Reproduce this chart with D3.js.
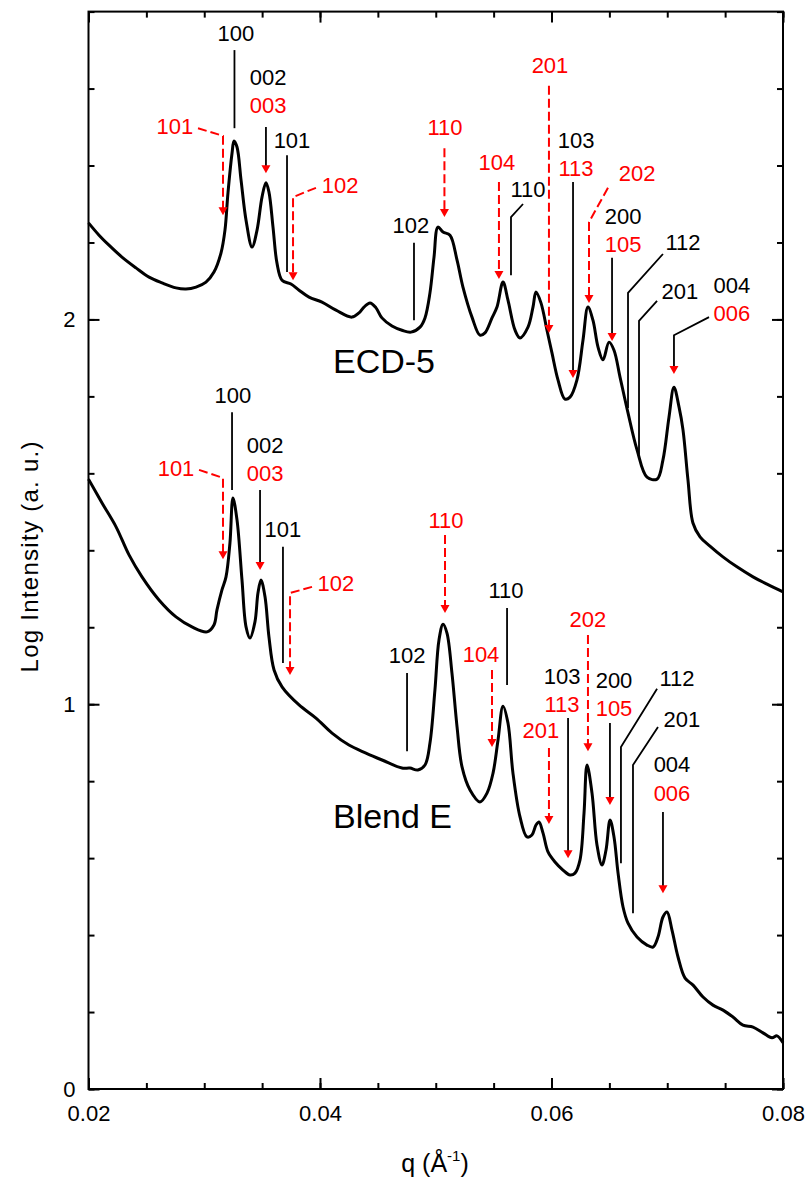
<!DOCTYPE html>
<html><head><meta charset="utf-8">
<script src="https://cdn.jsdelivr.net/npm/d3@7/dist/d3.min.js"></script>
<style>body{margin:0;background:#fff}svg{display:block}text{font-family:"Liberation Sans",Arial,sans-serif}</style>
</head><body>
<svg id="chart" width="809" height="1179"></svg>
<script>
// ---------- data (q in 1/Å, log intensity) ----------
const ecdQ = [0.0200,0.02091,0.02177,0.02289,0.02410,0.02523,0.02635,0.02756,0.02842,0.02929,0.03015,0.03084,0.03145,0.03179,0.03205,0.03240,0.03257,0.03283,0.03318,0.03361,0.03413,0.03456,0.03499,0.03533,0.03559,0.03594,0.03628,0.03672,0.03749,0.03819,0.03905,0.04017,0.04138,0.04276,0.04337,0.04380,0.04432,0.04484,0.04535,0.04622,0.04708,0.04786,0.04864,0.04907,0.04950,0.04985,0.05019,0.05063,0.05123,0.05184,0.05235,0.05313,0.05382,0.05425,0.05486,0.05529,0.05581,0.05624,0.05685,0.05728,0.05797,0.05840,0.05866,0.05909,0.05961,0.06004,0.06056,0.06116,0.06160,0.06220,0.06272,0.06315,0.06358,0.06402,0.06445,0.06497,0.06540,0.06592,0.06661,0.06739,0.06825,0.06912,0.06963,0.07015,0.07058,0.07102,0.07136,0.07179,0.07222,0.07283,0.07369,0.07481,0.07602,0.07741,0.07862,0.0800];
const ecdI = [2.251,2.219,2.193,2.162,2.134,2.110,2.095,2.082,2.079,2.084,2.097,2.123,2.173,2.232,2.329,2.432,2.464,2.448,2.362,2.258,2.188,2.232,2.318,2.355,2.331,2.240,2.147,2.102,2.092,2.076,2.058,2.045,2.024,2.006,2.017,2.032,2.043,2.030,2.004,1.983,1.972,1.967,1.980,2.004,2.069,2.162,2.240,2.227,2.219,2.154,2.084,2.006,1.959,1.965,2.004,2.032,2.097,2.050,1.972,1.952,1.980,2.032,2.071,2.043,1.972,1.913,1.843,1.793,1.798,1.843,1.946,2.032,1.998,1.928,1.895,1.941,1.920,1.850,1.757,1.661,1.590,1.585,1.635,1.746,1.824,1.772,1.713,1.583,1.471,1.435,1.411,1.383,1.357,1.331,1.312,1.292];
const blendQ = [0.0200,0.02117,0.02238,0.02350,0.02462,0.02609,0.02756,0.02894,0.03024,0.03084,0.03110,0.03153,0.03188,0.03222,0.03248,0.03283,0.03326,0.03361,0.03395,0.03438,0.03464,0.03490,0.03525,0.03559,0.03603,0.03672,0.03819,0.03965,0.04104,0.04250,0.04397,0.04536,0.04708,0.04777,0.04846,0.04907,0.04950,0.04993,0.05028,0.05063,0.05097,0.05140,0.05184,0.05227,0.05296,0.05382,0.05443,0.05495,0.05538,0.05581,0.05624,0.05667,0.05728,0.05788,0.05831,0.05866,0.05892,0.05927,0.05970,0.06030,0.06099,0.06160,0.06203,0.06246,0.06281,0.06307,0.06350,0.06393,0.06436,0.06471,0.06506,0.06540,0.06575,0.06618,0.06661,0.06739,0.06825,0.06877,0.06920,0.06963,0.06998,0.07041,0.07093,0.07154,0.07223,0.07309,0.07395,0.07482,0.07568,0.07654,0.07741,0.07827,0.07905,0.07948,0.0800];
const blendI = [1.585,1.523,1.461,1.388,1.331,1.271,1.227,1.201,1.188,1.206,1.245,1.297,1.331,1.419,1.536,1.479,1.323,1.201,1.172,1.214,1.289,1.323,1.279,1.175,1.089,1.045,0.998,0.964,0.925,0.894,0.873,0.855,0.834,0.834,0.829,0.842,0.899,1.037,1.167,1.208,1.185,1.081,0.941,0.837,0.777,0.746,0.769,0.821,0.907,0.995,0.951,0.821,0.707,0.655,0.660,0.686,0.694,0.665,0.616,0.590,0.569,0.556,0.561,0.595,0.717,0.842,0.769,0.634,0.582,0.621,0.699,0.655,0.561,0.473,0.431,0.395,0.374,0.369,0.395,0.447,0.460,0.413,0.343,0.288,0.270,0.239,0.218,0.205,0.187,0.166,0.161,0.146,0.133,0.138,0.120];

const xMajorTicks = [0.02,0.04,0.06,0.08];
const xTickLabels = ["0.02","0.04","0.06","0.08"];
const yMajorTicks = [0,1,2];
const yTickLabels = ["0","1","2"];

// peak labels: [text, colour, q, y]
const labelTexts = [
 ["100","k",0.03274,2.724],["002","k",0.03551,2.609],["003","r",0.03551,2.536],["101","k",0.03758,2.445],
 ["101","r",0.02747,2.482],["102","r",0.04173,2.329],["110","r",0.05080,2.479],["102","k",0.04786,2.225],
 ["104","r",0.05529,2.388],["110","k",0.05797,2.318],["201","r",0.05987,2.640],["103","k",0.06212,2.445],
 ["113","r",0.06212,2.373],["202","r",0.06739,2.360],["200","k",0.06618,2.248],["105","r",0.06618,2.175],
 ["112","k",0.07136,2.180],["201","k",0.07110,2.053],["004","k",0.07559,2.069],["006","r",0.07559,1.996],
 ["100","k",0.03248,1.783],["002","k",0.03525,1.653],["003","r",0.03525,1.580],["101","k",0.03680,1.435],
 ["101","r",0.02756,1.593],["102","r",0.04138,1.294],["110","r",0.05089,1.458],["102","k",0.04752,1.107],
 ["110","k",0.05607,1.276],["104","r",0.05391,1.110],["202","r",0.06315,1.201],["103","k",0.06091,1.053],
 ["113","r",0.06091,0.980],["200","k",0.06540,1.042],["105","r",0.06540,0.969],["112","k",0.07084,1.047],
 ["201","k",0.07127,0.941],["201","r",0.05909,0.912],["004","k",0.07041,0.824],["006","r",0.07041,0.748]
];
// leader lines: [colour, dashed, arrow, points [[q,y],...]]
const leaders = [
 ["k",0,0,[[0.03261,2.700],[0.03261,2.497]]],
 ["k",0,1,[[0.03533,2.500],[0.03533,2.380]]],
 ["k",0,0,[[0.03715,2.427],[0.03715,2.123]]],
 ["r",1,1,[[0.02946,2.497],[0.03162,2.477],[0.03162,2.271]]],
 ["r",1,1,[[0.03965,2.342],[0.03767,2.318],[0.03767,2.102]]],
 ["r",1,1,[[0.05075,2.445],[0.05075,2.266]]],
 ["k",0,0,[[0.04812,2.199],[0.04812,1.998]]],
 ["r",1,1,[[0.05546,2.357],[0.05546,2.105]]],
 ["k",0,0,[[0.05754,2.300],[0.05650,2.266],[0.05650,2.115]]],
 ["r",1,1,[[0.05978,2.607],[0.05978,1.965]]],
 ["k",0,1,[[0.06186,2.357],[0.06186,1.848]]],
 ["r",1,1,[[0.06488,2.342],[0.06324,2.253],[0.06324,2.043]]],
 ["k",0,1,[[0.06523,2.160],[0.06523,1.944]]],
 ["k",0,0,[[0.06963,2.170],[0.06661,2.069],[0.06661,1.770]]],
 ["k",0,0,[[0.06912,2.048],[0.06756,1.996],[0.06756,1.648]]],
 ["k",0,1,[[0.07361,2.006],[0.07058,1.959],[0.07058,1.858]]],
 ["k",0,0,[[0.03240,1.759],[0.03240,1.557]]],
 ["k",0,1,[[0.03482,1.557],[0.03482,1.349]]],
 ["k",0,0,[[0.03680,1.409],[0.03680,1.107]]],
 ["r",1,1,[[0.02955,1.609],[0.03162,1.588],[0.03162,1.377]]],
 ["r",1,1,[[0.03931,1.305],[0.03741,1.289],[0.03741,1.076]]],
 ["r",1,1,[[0.05080,1.440],[0.05080,1.237]]],
 ["k",0,0,[[0.04752,1.081],[0.04752,0.878]]],
 ["k",0,0,[[0.05616,1.250],[0.05616,1.050]]],
 ["r",1,1,[[0.05486,1.089],[0.05486,0.889]]],
 ["r",1,1,[[0.06315,1.180],[0.06315,0.878]]],
 ["k",0,1,[[0.06143,0.964],[0.06143,0.600]]],
 ["k",0,1,[[0.06505,0.951],[0.06505,0.738]]],
 ["k",0,0,[[0.06912,1.040],[0.06600,0.889],[0.06600,0.587]]],
 ["k",0,0,[[0.06920,0.941],[0.06704,0.842],[0.06704,0.457]]],
 ["r",1,1,[[0.05978,0.886],[0.05978,0.689]]],
 ["k",0,1,[[0.06963,0.720],[0.06963,0.509]]]
];
const sampleNames = [["ECD-5",0.04112,1.861],["Blend E",0.04112,0.678]];

// ---------- drawing ----------
const svg = d3.select("#chart");
const L = 88.5, R = 783, T = 11.6, B = 1089;
const x = d3.scaleLinear().domain([0.02,0.08]).range([L,R]);
const y = d3.scaleLinear().domain([0,2.8]).range([B,T]);
const col = c => c === "r" ? "#ff0000" : "#000";
const font = '"Liberation Sans",Arial,sans-serif';

function axisStyle(g){ g.select(".domain").remove(); g.selectAll("line").attr("stroke","#000").attr("stroke-width",2); g.selectAll("text").attr("font-size",22).attr("fill","#000").style("font-family",font); }
const xMinor = d3.range(0.02,0.08001,0.005);
const yMinor = d3.range(0,2.8001,0.2);

svg.append("g").attr("transform",`translate(0,${B})`).call(d3.axisBottom(x).tickValues(xMinor).tickSize(-6).tickFormat("")).call(axisStyle);
svg.append("g").attr("transform",`translate(0,${B})`).call(d3.axisBottom(x).tickValues(xMajorTicks).tickSize(-11).tickPadding(16).tickFormat((d,i)=>xTickLabels[i])).call(axisStyle);
svg.append("g").attr("transform",`translate(0,${T})`).call(d3.axisTop(x).tickValues(xMinor).tickSize(-6).tickFormat("")).call(axisStyle);
svg.append("g").attr("transform",`translate(0,${T})`).call(d3.axisTop(x).tickValues(xMajorTicks).tickSize(-11).tickFormat("")).call(axisStyle);
svg.append("g").attr("transform",`translate(${L},0)`).call(d3.axisLeft(y).tickValues(yMinor).tickSize(-6).tickFormat("")).call(axisStyle);
svg.append("g").attr("transform",`translate(${L},0)`).call(d3.axisLeft(y).tickValues(yMajorTicks).tickSize(-11).tickPadding(13).tickFormat((d,i)=>yTickLabels[i])).call(axisStyle);
svg.append("g").attr("transform",`translate(${R},0)`).call(d3.axisRight(y).tickValues(yMinor).tickSize(-6).tickFormat("")).call(axisStyle);
svg.append("g").attr("transform",`translate(${R},0)`).call(d3.axisRight(y).tickValues(yMajorTicks).tickSize(-11).tickFormat("")).call(axisStyle);

svg.append("rect").attr("x",L).attr("y",T).attr("width",R-L).attr("height",B-T).attr("fill","none").attr("stroke","#000").attr("stroke-width",2);

// curves
const line = d3.line().x(d=>x(d[0])).y(d=>y(d[1])).curve(d3.curveCatmullRom.alpha(0.5));
[[ecdQ,ecdI],[blendQ,blendI]].forEach(([qs,is])=>{
  svg.append("path").datum(qs.map((q,i)=>[q,is[i]])).attr("d",line)
    .attr("fill","none").attr("stroke","#000").attr("stroke-width",3).attr("stroke-linejoin","round");
});

// leaders
const lin = d3.line().x(d=>x(d[0])).y(d=>y(d[1]));
leaders.forEach(([c,dash,arrow,pts])=>{
  let p = pts.map(d=>[d[0],d[1]]);
  if(arrow){
    const last = p[p.length-1];
    p[p.length-1] = [last[0], y.invert(y(last[1])-6)];
  }
  svg.append("path").attr("d",lin(p)).attr("fill","none").attr("stroke",col(c))
    .attr("stroke-width",dash?2:1.8).attr("stroke-dasharray",dash?"9,4":null);
  if(arrow){
    const tip = pts[pts.length-1], tx = x(tip[0]), ty = y(tip[1]);
    svg.append("path").attr("d",`M${tx-4.5},${ty-8}L${tx+4.5},${ty-8}L${tx},${ty}Z`).attr("fill","#ff0000");
  }
});

// labels
svg.selectAll("text.lab").data(labelTexts).enter().append("text").attr("class","lab")
  .attr("x",d=>x(d[2])).attr("y",d=>y(d[3])).attr("text-anchor","middle")
  .attr("font-size",22).attr("fill",d=>col(d[1])).text(d=>d[0]);
sampleNames.forEach(([t,q,v])=>{
  svg.append("text").attr("x",x(q)).attr("y",y(v)).attr("font-size",34).attr("fill","#000").text(t);
});

// axis titles
svg.append("text").attr("transform",`translate(38,557) rotate(-90)`).attr("text-anchor","middle")
  .attr("font-size",24).attr("textLength",231).attr("lengthAdjust","spacing").text("Log Intensity (a. u.)");
const xt = svg.append("text").attr("x",435).attr("y",1172).attr("text-anchor","middle").attr("font-size",25);
xt.append("tspan").text("q (Å");
xt.append("tspan").attr("font-size",15).attr("dy",-11).text("-1");
xt.append("tspan").attr("dy",11).text(")");
</script>
</body></html>
